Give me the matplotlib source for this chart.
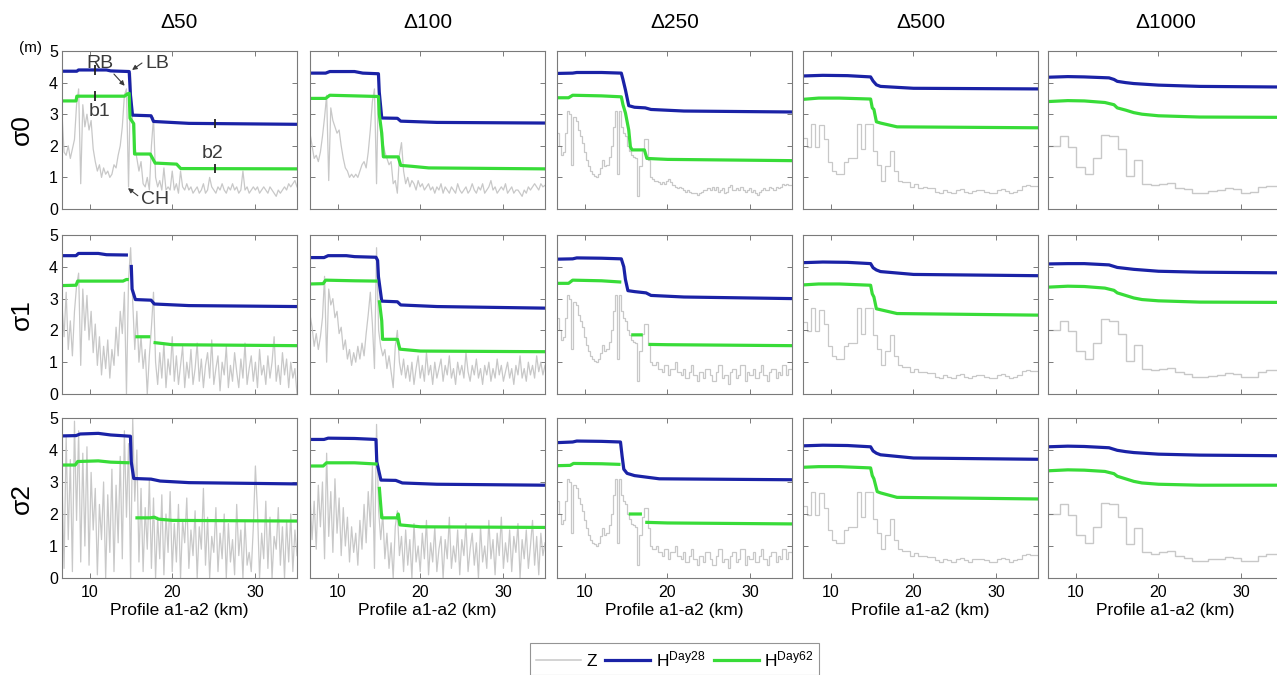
import numpy as np
import matplotlib
matplotlib.use('Agg')
import matplotlib.pyplot as plt
from matplotlib.lines import Line2D

nan = np.nan

cols = ['Δ50', 'Δ100', 'Δ250', 'Δ500', 'Δ1000']
rows = ['σ0', 'σ1', 'σ2']
x_ticks = [10, 20, 30]
y_ticks = [0, 1, 2, 3, 4, 5]
x_range = (6.6, 35.1)

# bed elevation Z (m) along profile a1-a2
z_s0_d50 = [3.0, 1.8, 1.7, 2.0, 1.6, 1.9, 2.2, 3.3, 3.8, 0.8,
            3.3, 2.6, 3.0, 2.5, 2.8, 1.9, 1.5, 1.2, 1.4, 1.0,
            1.3, 1.1, 1.2, 1.0, 1.1, 1.4, 1.3, 1.7, 2.0, 2.6,
            3.6, 3.8, 0.7, 4.3, 2.6, 2.0, 1.6, 1.2, 1.5, 0.8,
            0.7, 1.0, 0.6, 2.0, 2.9, 1.0, 0.7, 0.9, 0.6, 1.3,
            0.6, 0.7, 0.6, 1.2, 0.6, 0.8, 0.5, 1.2, 0.7, 0.6,
            0.8, 0.6, 0.7, 0.5, 0.6, 0.7, 0.5, 0.6, 0.8, 0.5,
            0.6, 1.0, 0.7, 0.6, 0.5, 0.7, 0.6, 0.8, 0.6, 0.5,
            0.7, 0.6, 0.8, 0.6, 0.7, 0.5, 0.6, 1.2, 0.6, 0.7,
            0.5, 0.6, 0.7, 0.6, 0.7, 0.5, 0.6, 0.7, 0.6, 0.5,
            0.7, 0.6, 0.5, 0.4, 0.6, 0.5, 0.6, 0.7, 0.6, 0.8,
            0.7, 0.8, 0.9, 0.7]

z_s0_d100 = [2.4, 2.0, 1.6, 1.7, 1.5, 1.8, 2.3, 2.9, 3.6, 0.9,
             3.2, 2.8, 2.6, 2.4, 2.5, 2.0, 1.6, 1.3, 1.2, 1.0,
             1.1, 1.0, 1.1, 1.0, 1.2, 1.4, 1.5, 1.3, 1.8, 2.5,
             3.4, 3.8, 0.8, 4.3, 2.4, 2.1, 1.8, 1.6, 1.4, 1.5,
             0.8, 0.9, 0.5, 1.7, 2.1, 1.2, 0.8, 1.0, 0.7, 0.9,
             0.8, 0.6, 0.9, 0.7, 0.8, 0.6, 0.7, 0.8, 0.6, 0.7,
             0.5, 0.7, 0.6, 0.8, 0.5, 0.7, 0.6, 0.5, 0.7, 0.6,
             0.5, 0.8, 0.6, 0.5, 0.6, 0.7, 0.5, 0.6, 0.8, 0.6,
             0.5, 0.7, 0.6, 0.8, 0.5, 0.6, 0.7, 0.9, 0.6, 0.7,
             0.5, 0.6, 0.7, 0.6, 0.8, 0.5, 0.6, 0.7, 0.5, 0.6,
             0.6, 0.5, 0.4, 0.6, 0.5, 0.7, 0.6, 0.7, 0.8, 0.7,
             0.6, 0.8, 0.7, 0.75]

z_s1_d50 = [2.8, 1.8, 3.2, 1.4, 2.3, 1.2, 2.6, 3.4, 3.8, 0.9,
            3.3, 2.0, 3.1, 1.7, 2.6, 1.3, 2.2, 0.9, 1.8, 0.6,
            1.5, 0.8, 1.7, 0.5, 1.4, 0.9, 2.1, 1.2, 2.6, 1.9,
            3.2, 0.0, 3.6, 4.6, 2.9, 1.4, 2.6, 1.0, 1.8, 0.8,
            1.4, 0.0, 1.2, 2.1, 3.2, 1.0,
            0.3, 1.3, 0.5, 1.6, 0.2, 1.1, 0.6, 1.8, 0.4, 1.2,
            0.3, 0.9, 1.5, 0.2, 1.0, 0.5, 1.4, 0.3, 0.8, 1.6,
            0.4, 1.1, 0.2, 0.9, 1.3, 0.5, 1.7, 0.3, 0.8, 1.2,
            0.1, 1.0, 0.6, 1.5, 0.2, 0.9, 0.4, 1.3, 0.7, 0.2,
            1.1, 0.5, 1.6, 0.3, 0.8, 1.2, 0.4, 1.0, 0.2, 1.4,
            0.6, 0.9, 0.3, 1.2, 0.5, 1.0, 1.8, 0.4, 0.9, 0.3,
            1.3, 0.6, 1.1, 0.2, 1.0, 0.5, 0.8, 0.0]

z_s1_d100 = [2.5, 2.1, 1.5, 1.9, 1.4, 1.8, 2.4, 3.7, 1.0, 3.3,
             2.8, 3.0, 2.4, 2.6, 1.9, 2.1, 1.4, 1.7, 1.1, 1.4,
             0.9, 1.3, 1.0, 1.5, 1.1, 1.6, 1.2, 1.9, 2.5, 3.2,
             2.2, 0.8, 4.6, 2.0, 1.5, 1.2, 1.4, 0.8, 1.2, 0.7,
             0.2, 1.5, 2.0, 1.0, 0.6, 1.1, 0.5, 0.9, 0.4, 1.0,
             0.3, 0.8, 1.2, 0.5, 0.9, 0.4, 1.3, 0.6, 0.9, 0.3,
             1.0, 0.5, 0.8, 1.1, 0.4, 0.9, 0.6, 1.2, 0.5, 0.8,
             0.3, 1.0, 0.6, 0.9, 0.5, 1.3, 0.7, 0.4, 0.9, 0.6,
             1.1, 0.5, 0.8, 0.3, 0.9, 0.6, 1.0, 0.4, 0.8, 0.5,
             1.1, 0.6, 0.9, 0.4, 0.7, 1.0, 0.5, 0.8, 0.3, 0.9,
             0.6, 1.2, 0.5, 0.8, 0.4, 1.0, 0.6, 0.9, 0.5, 1.2,
             0.7, 1.0, 0.6, 0.9]

z_s2_d50 = [3.1, 0.3, 4.4, 1.2, 3.7, 0.2, 4.9, 1.8, 4.6, 0.5,
            3.9, 1.0, 4.1, 0.4, 3.3, 1.5, 2.8, 0.1, 2.3, 1.2,
            3.0, 0.0, 2.6, 0.8, 3.4, 0.2, 2.9, 1.1, 3.8, 0.6,
            4.6, 1.9, 4.2, 0.0, 5.0, 2.4, 4.0, 0.5, 2.8, 0.2,
            2.2, 0.9, 3.1, 0.3, 2.5, 0.0, 1.9, 0.6, 2.6, 0.1,
            2.0, 0.8, 2.7, 0.2, 1.7, 0.5, 2.3, 0.0, 1.8, 1.1,
            2.5, 0.3, 1.5, 0.7, 2.1, 0.0, 1.6, 0.9, 2.8, 0.4,
            1.9, 0.0, 1.3, 0.8, 2.2, 0.2, 1.4, 0.6, 2.0, 0.0,
            1.7, 0.5, 1.2, 0.1, 2.3, 0.7, 1.5, 0.0, 1.8, 0.4,
            0.8, 0.2, 1.6, 3.5, 2.1, 0.0, 1.4, 0.6, 2.4, 0.3,
            1.9, 0.0, 1.3, 0.9, 2.2, 0.4, 1.6, 0.0, 1.8, 0.5,
            2.0, 0.2, 1.5, 0.7]

z_s2_d100 = [2.6, 1.2, 2.4, 0.9, 2.9, 1.6, 3.0, 0.6, 3.9, 1.3,
             2.7, 0.8, 3.1, 1.4, 2.5, 0.7, 2.2, 1.0, 1.9, 0.5,
             1.6, 0.8, 1.4, 0.4, 1.8, 0.9, 2.3, 1.1, 2.7, 1.6,
             3.5, 0.3, 4.8, 2.1, 1.2, 2.0, 0.6, 1.4, 0.3, 1.1,
             0.0, 1.6, 2.1, 0.7, 1.3, 0.2, 1.5, 0.4, 1.2, 0.0,
             1.7, 0.5, 1.0, 0.2, 1.4, 0.6, 1.8, 0.1, 1.1, 0.5,
             1.6, 0.2, 0.9, 1.3, 0.0, 1.2, 0.6, 1.9, 0.3, 1.0,
             0.5, 1.5, 0.1, 1.2, 0.7, 1.7, 0.2, 0.9, 1.4, 0.4,
             1.1, 0.0, 1.6, 0.5, 1.0, 0.3, 1.8, 0.6, 1.2, 0.1,
             1.4, 0.7, 1.9, 0.3, 1.1, 0.5, 1.5, 0.2, 1.3, 0.8,
             1.7, 0.0, 1.2, 0.6, 1.5, 0.3, 1.0, 1.8, 0.4, 1.3,
             0.1, 1.4, 0.7, 1.1]

# 250 m bins: upstream part shared, floodplain part per row
z_d250_front = [2.4, 2.0, 1.7, 1.8, 2.4, 3.1, 3.0, 1.4, 2.9, 2.8,
                2.5, 2.3, 2.1, 1.8, 1.55, 1.35, 1.2, 1.1, 1.05, 1.0,
                1.1, 1.3, 1.55, 1.35, 1.4, 1.65, 2.0, 2.6, 3.1, 1.1,
                3.1, 2.6, 2.4, 2.3, 2.0, 1.85, 1.7, 1.65, 1.6, 0.4,
                1.35, 1.9, 2.2, 2.2, 1.55, 1.0]
z_d250_tail_s0 = [0.95, 0.9, 0.9, 0.85, 0.8, 0.85, 0.8, 0.9, 0.95, 0.85,
                  0.75, 0.7, 0.65, 0.7, 0.65, 0.6, 0.55, 0.6, 0.55, 0.5,
                  0.5, 0.5, 0.45, 0.5, 0.55, 0.6, 0.6, 0.65, 0.6, 0.7,
                  0.6, 0.7, 0.55, 0.6, 0.65, 0.5, 0.55, 0.7, 0.75, 0.6,
                  0.6, 0.65, 0.6, 0.7, 0.6, 0.55, 0.6, 0.65, 0.55, 0.6,
                  0.5, 0.45, 0.55, 0.6, 0.65, 0.6, 0.6, 0.7, 0.65, 0.6,
                  0.7, 0.65, 0.7, 0.8, 0.75, 0.8, 0.75, 0.75]
z_d250_tail_s12 = [0.9, 0.9, 1.0, 0.8, 0.8, 0.7, 0.9, 0.9, 0.6, 0.8,
                   0.8, 1.0, 0.7, 0.7, 0.6, 0.8, 0.5, 0.5, 0.7, 0.9,
                   0.6, 0.6, 0.4, 0.7, 0.7, 0.5, 0.8, 0.8, 0.6, 0.4,
                   0.4, 0.7, 0.9, 0.9, 0.5, 0.6, 0.6, 0.3, 0.7, 0.8,
                   0.8, 0.5, 0.6, 0.9, 0.9, 0.4, 0.7, 0.6, 0.6, 0.8,
                   0.5, 0.5, 0.7, 0.9, 0.6, 0.6, 0.4, 0.7, 0.8, 0.8,
                   0.5, 0.7, 0.6, 0.9, 0.9, 0.6, 0.8, 0.8]

z_d500 = [2.25, 1.97, 2.7, 1.97, 2.65, 2.2, 1.5, 1.2, 1.1, 1.1,
          1.5, 1.6, 1.6, 2.7, 1.9, 2.7, 2.7, 1.85, 1.4, 0.9,
          1.35, 1.85, 1.2, 0.9, 0.85, 0.85, 0.7, 0.78, 0.68, 0.7,
          0.65, 0.65, 0.55, 0.5, 0.6, 0.55, 0.5, 0.6, 0.62, 0.55,
          0.5, 0.58, 0.6, 0.6, 0.55, 0.5, 0.5, 0.6, 0.62, 0.58,
          0.5, 0.55, 0.6, 0.72, 0.75, 0.72, 0.72]

z_d1000 = [2.0, 2.0, 2.3, 1.97, 1.34, 1.1, 1.6, 2.35, 2.3, 1.9,
           1.05, 1.55, 0.8, 0.75, 0.8, 0.83, 0.68, 0.62, 0.52, 0.52,
           0.58, 0.6, 0.65, 0.62, 0.52, 0.54, 0.7, 0.74, 0.74]

# water level H (km, m) per column Δ50..Δ1000; nan marks a break in the line
h28_s0 = [
    [(6.6, 4.36), (8.4, 4.36), (8.6, 4.4), (12, 4.4), (12.5, 4.37), (14.75, 4.35), (14.9, 3.6),
     (15.15, 2.97), (17.4, 2.95), (17.7, 2.77), (22, 2.71), (35.1, 2.68)],
    [(6.6, 4.3), (8.5, 4.3), (9, 4.35), (12, 4.35), (13, 4.3), (14.9, 4.28), (15.0, 3.7),
     (15.3, 2.88), (17.2, 2.87), (17.6, 2.78), (22, 2.74), (35.1, 2.72)],
    [(6.6, 4.29), (8.5, 4.3), (9, 4.32), (12, 4.32), (14.4, 4.3), (14.6, 4.1), (14.9, 3.77),
     (15.3, 3.27), (16, 3.22), (17.3, 3.2), (18, 3.15), (22, 3.1), (35.1, 3.07)],
    [(6.6, 4.21), (9, 4.23), (12, 4.22), (14.8, 4.18), (15.1, 4.05), (15.5, 3.93), (16, 3.88),
     (20, 3.82), (35.1, 3.8)],
    [(6.6, 4.17), (9, 4.19), (11, 4.18), (14, 4.15), (14.6, 4.1), (15, 4.04), (16, 4.0),
     (17, 3.97), (20, 3.92), (25, 3.88), (35.1, 3.86)],
]
h62_s0 = [
    [(6.6, 3.42), (8.3, 3.42), (8.4, 3.57), (14.2, 3.57), (14.5, 3.64), (14.75, 3.66), (14.85, 2.87),
     (15.3, 2.7), (15.4, 1.74), (17.3, 1.74), (17.9, 1.45), (18.2, 1.45), (20.5, 1.42), (21.0, 1.28),
     (35.1, 1.27)],
    [(6.6, 3.5), (8.5, 3.5), (9, 3.6), (12, 3.58), (14.9, 3.56), (15.0, 3.0), (15.3, 2.4),
     (15.5, 1.65), (17.3, 1.65), (17.6, 1.38), (19, 1.35), (21, 1.3), (35.1, 1.27)],
    [(6.6, 3.52), (8, 3.52), (8.5, 3.6), (12, 3.58), (14.4, 3.55), (14.6, 3.3), (14.9, 3.04),
     (15.3, 2.5), (15.5, 1.97), (15.7, 1.87), (17.2, 1.87), (17.5, 1.6), (20, 1.57), (35.1, 1.53)],
    [(6.6, 3.47), (8.5, 3.51), (11, 3.51), (14.8, 3.48), (15.0, 3.2), (15.2, 3.15), (15.5, 2.76),
     (16, 2.72), (18, 2.6), (35.1, 2.57)],
    [(6.6, 3.4), (9, 3.43), (11, 3.42), (13.5, 3.37), (14.6, 3.3), (15, 3.2), (16, 3.13),
     (17, 3.05), (18, 3.0), (20, 2.95), (25, 2.91), (35.1, 2.9)],
]
h28_s1 = [
    [(6.6, 4.35), (8.3, 4.35), (8.6, 4.42), (11, 4.42), (12, 4.38), (14.6, 4.37), (14.7, nan),
     (15.0, 4.06), (15.1, 3.3), (15.5, 2.97), (17.4, 2.95), (17.8, 2.83), (22, 2.78), (35.1, 2.75)],
    [(6.6, 4.29), (8.3, 4.29), (8.8, 4.35), (11, 4.35), (12, 4.32), (14.6, 4.3), (14.8, 4.2),
     (14.9, 3.69), (15.3, 2.92), (17.2, 2.9), (17.6, 2.8), (22, 2.75), (35.1, 2.7)],
    [(6.6, 4.24), (8.5, 4.25), (9, 4.28), (12, 4.27), (14.4, 4.25), (14.7, 4.0), (14.9, 3.6),
     (15.2, 3.25), (16, 3.22), (17.4, 3.18), (18, 3.1), (22, 3.05), (35.1, 3.0)],
    [(6.6, 4.13), (9, 4.15), (12, 4.14), (14.8, 4.1), (15.1, 3.97), (15.5, 3.9), (16, 3.85),
     (20, 3.76), (35.1, 3.72)],
    [(6.6, 4.09), (9, 4.1), (11, 4.1), (14, 4.06), (15, 3.98), (16, 3.95), (17, 3.92),
     (20, 3.86), (25, 3.83), (35.1, 3.81)],
]
h62_s1 = [
    [(6.6, 3.41), (8.3, 3.42), (8.5, 3.55), (14.0, 3.55), (14.4, 3.6), (14.7, 3.6), (14.8, nan),
     (15.5, 1.8), (17.3, 1.8), (17.5, nan), (17.7, 1.62), (20, 1.55), (35.1, 1.52)],
    [(6.6, 3.46), (8.2, 3.47), (8.5, 3.58), (12, 3.56), (14.8, 3.55), (14.9, nan), (15.0, 2.95),
     (15.3, 2.3), (15.4, 1.72), (17.2, 1.72), (17.5, 1.41), (20, 1.35), (35.1, 1.33)],
    [(6.6, 3.48), (8, 3.48), (8.5, 3.58), (12, 3.56), (14.4, 3.52), (14.5, nan), (15.6, 1.86),
     (17.0, 1.86), (17.2, nan), (17.7, 1.56), (20, 1.55), (35.1, 1.52)],
    [(6.6, 3.43), (8.5, 3.46), (11, 3.46), (14.8, 3.42), (15.0, 3.15), (15.2, 3.05), (15.5, 2.68),
     (16, 2.65), (18, 2.53), (35.1, 2.48)],
    [(6.6, 3.36), (9, 3.39), (11, 3.38), (13.5, 3.33), (14.6, 3.26), (15, 3.18), (16, 3.1),
     (17, 3.02), (18, 2.97), (20, 2.93), (25, 2.89), (35.1, 2.88)],
]
h28_s2 = [
    [(6.6, 4.44), (8.3, 4.45), (8.8, 4.5), (11, 4.52), (12.5, 4.47), (14.9, 4.43), (15.0, 3.63),
     (15.3, 3.11), (17.4, 3.09), (18.5, 3.03), (22, 2.98), (35.1, 2.94)],
    [(6.6, 4.33), (8.3, 4.33), (8.8, 4.37), (12, 4.36), (14.6, 4.33), (14.7, 3.63), (15.2, 3.06),
     (17.0, 3.05), (17.8, 2.97), (22, 2.93), (35.1, 2.9)],
    [(6.6, 4.23), (8.5, 4.25), (9, 4.28), (12, 4.27), (14.3, 4.25), (14.5, 3.8), (14.7, 3.4),
     (15.1, 3.27), (16, 3.2), (19, 3.1), (35.1, 3.07)],
    [(6.6, 4.13), (9, 4.15), (12, 4.14), (14.8, 4.1), (15.1, 3.97), (15.5, 3.9), (16, 3.85),
     (20, 3.75), (35.1, 3.71)],
    [(6.6, 4.1), (9, 4.12), (11, 4.11), (14, 4.07), (15, 3.99), (16, 3.95), (17, 3.92),
     (20, 3.87), (25, 3.84), (35.1, 3.82)],
]
h62_s2 = [
    [(6.6, 3.53), (8.2, 3.53), (8.5, 3.64), (11, 3.66), (12.5, 3.62), (14.8, 3.6), (14.9, nan),
     (15.5, 1.88), (17.3, 1.88), (17.8, 1.9), (18.3, 1.84), (20, 1.8), (35.1, 1.78)],
    [(6.6, 3.5), (8.2, 3.5), (8.6, 3.6), (12, 3.6), (14.8, 3.56), (14.9, nan), (15.0, 2.85),
     (15.3, 1.88), (17.2, 1.88), (17.3, 2.0), (17.5, 1.66), (20, 1.6), (35.1, 1.58)],
    [(6.6, 3.51), (8.2, 3.52), (8.6, 3.58), (12, 3.57), (14.3, 3.55), (14.4, nan), (15.3, 2.0),
     (16.9, 2.0), (17.1, nan), (17.3, 1.74), (20, 1.72), (35.1, 1.69)],
    [(6.6, 3.46), (8.5, 3.48), (11, 3.48), (14.8, 3.44), (15.0, 3.2), (15.2, 3.1), (15.6, 2.7),
     (16, 2.66), (18, 2.52), (35.1, 2.47)],
    [(6.6, 3.35), (9, 3.38), (11, 3.37), (13.5, 3.33), (14.6, 3.26), (15, 3.18), (16, 3.1),
     (17, 3.02), (18, 2.97), (20, 2.93), (25, 2.9), (35.1, 2.9)],
]

# b1 / b2 cross-section marks (km)
b_marks = [10.6, 25.1]
b_names = ['b1', 'b2']

z_rows = [
    [z_s0_d50, z_s0_d100, z_d250_front + z_d250_tail_s0, z_d500, z_d1000],
    [z_s1_d50, z_s1_d100, z_d250_front + z_d250_tail_s12, z_d500, z_d1000],
    [z_s2_d50, z_s2_d100, z_d250_front + z_d250_tail_s12, z_d500, z_d1000],
]
h28_rows = [h28_s0, h28_s1, h28_s2]
h62_rows = [h62_s0, h62_s1, h62_s2]

plt.rcParams['font.family'] = ['Liberation Sans', 'DejaVu Sans']

C_Z = '#c8c8c8'
C_28 = '#1a22a6'
C_62 = '#38dc38'
C_AX = '#7a7a7a'
C_TXT = '#3a3a3a'

W, H = 1277, 675
fig = plt.figure(figsize=(W / 100, H / 100), dpi=100)

lefts = [62, 310, 557, 803, 1048]
row_px = [(51, 209), (235, 394), (418, 578)]
PW = 235

axes = {}
for r in range(3):
    top, bot = row_px[r]
    for c in range(5):
        ax = fig.add_axes([lefts[c] / W, 1 - bot / H, PW / W, (bot - top) / H])
        axes[(r, c)] = ax
        z = np.array(z_rows[r][c])
        if c < 2:
            xz = np.linspace(x_range[0], x_range[1], len(z))
            ax.plot(xz, z, color=C_Z, lw=0.9)
        elif c == 4:
            edges = 6.05 + np.arange(len(z) + 1) * 1.0
            ax.stairs(z, edges, color=C_Z, lw=1.0, baseline=None)
        else:
            edges = np.linspace(x_range[0], x_range[1], len(z) + 1)
            ax.stairs(z, edges, color=C_Z, lw=0.9, baseline=None)

        p28 = np.array(h28_rows[r][c])
        p62 = np.array(h62_rows[r][c])
        ax.plot(p28[:, 0], p28[:, 1], color=C_28, lw=2.3, solid_capstyle='butt')
        ax.plot(p62[:, 0], p62[:, 1], color=C_62, lw=2.3, solid_capstyle='butt')

        ax.set_xlim(*x_range)
        ax.set_ylim(0, 5)
        ax.set_xticks(x_ticks)
        ax.set_yticks(y_ticks)
        ax.tick_params(direction='in', top=True, right=True, length=3.5, width=0.7,
                       color=C_AX, labelsize=11.5, pad=3)
        ax.tick_params(axis='x', pad=5)
        for s in ax.spines.values():
            s.set_color(C_AX)
            s.set_linewidth(0.8)
        if c > 0:
            ax.tick_params(labelleft=False)
        if r < 2:
            ax.tick_params(labelbottom=False)
        else:
            ax.set_xlabel('Profile a1-a2 (km)', fontsize=12.5, labelpad=2)

        if r == 0:
            fig.text((lefts[c] + PW / 2) / W, 1 - 22 / H, cols[c], ha='center', va='center',
                     fontsize=15)
    fig.text(22 / W, 1 - (top + bot) / 2 / H, rows[r], rotation=90, ha='center', va='center',
             fontsize=19)

# annotations in the first panel
ax0 = axes[(0, 0)]
fig.text(30 / W, 1 - 48 / H, '(m)', ha='center', va='center', fontsize=11)
ax0.text(11.2, 4.62, 'RB', fontsize=14, color=C_TXT, ha='center', va='center')
ax0.text(18.1, 4.62, 'LB', fontsize=14, color=C_TXT, ha='center', va='center')
ax0.text(17.9, 0.3, 'CH', fontsize=14, color=C_TXT, ha='center', va='center')
arrow = dict(arrowstyle='-|>', color=C_TXT, lw=0.8, mutation_scale=7, shrinkA=0, shrinkB=0)
ax0.annotate('', xy=(14.2, 3.9), xytext=(12.9, 4.27), arrowprops=arrow)
ax0.annotate('', xy=(15.1, 4.4), xytext=(16.3, 4.62), arrowprops=arrow)
ax0.annotate('', xy=(14.6, 0.66), xytext=(15.8, 0.42), arrowprops=arrow)
p28 = np.array(h28_s0[0])
p62 = np.array(h62_s0[0])
for xb, nm in zip(b_marks, b_names):
    y28 = np.interp(xb, p28[:, 0], p28[:, 1])
    y62 = np.interp(xb, p62[:, 0], p62[:, 1])
    ax0.vlines([xb, xb], [y28 - 0.15, y62 - 0.15], [y28 + 0.15, y62 + 0.15],
               color='#222222', lw=1.3, zorder=5)
ax0.text(11.2, 3.07, b_names[0], fontsize=14, color=C_TXT, ha='center', va='center')
ax0.text(24.9, 1.77, b_names[1], fontsize=14, color=C_TXT, ha='center', va='center')

handles = [Line2D([], [], color=C_Z, lw=1.1),
           Line2D([], [], color=C_28, lw=2.3),
           Line2D([], [], color=C_62, lw=2.3)]
labels = ['Z', r'$\mathregular{H^{Day28}}$', r'$\mathregular{H^{Day62}}$']
leg = fig.legend(handles, labels, loc='upper center', bbox_to_anchor=(674.5 / W, 1 - 643 / H),
                 ncol=3, frameon=True, fancybox=False, edgecolor=C_AX, fontsize=12.5,
                 handlelength=2.6, handletextpad=0.3, columnspacing=0.5, borderpad=0.35,
                 borderaxespad=0)
leg.get_frame().set_linewidth(0.8)

fig.savefig('out.png', dpi=100)
